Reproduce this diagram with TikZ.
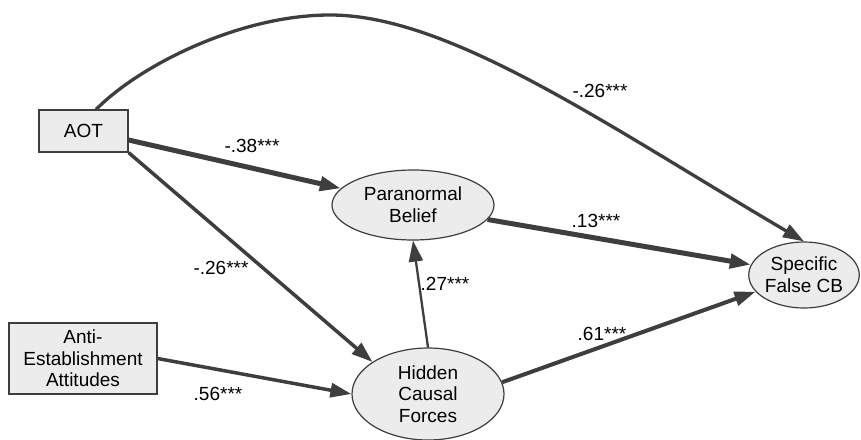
\documentclass[tikz,border=0pt]{standalone}
\usepackage{fontspec}
\setmainfont{Liberation Sans}
\usetikzlibrary{shapes.geometric,arrows.meta,calc}
\definecolor{ln}{HTML}{3E3E3E}
\definecolor{nodefill}{HTML}{ECECEC}
\begin{document}
\begin{tikzpicture}[x=1pt,y=-1pt,
  every node/.style={font=\fontsize{19}{21.7}\selectfont},
  boxnode/.style={draw=ln, fill=nodefill, line width=1.2pt, rectangle, inner sep=0pt, align=center},
  ellnode/.style={draw=ln, fill=nodefill, line width=1.2pt, ellipse, inner sep=0pt, align=center},
  conn/.style={draw=ln, -{Triangle[length=21pt,width=14pt]}},
  lbl/.style={anchor=base, text=black, inner sep=0pt}
]
\useasboundingbox (0,0) rectangle (861,439);
\fill[white] (0,0) rectangle (861,439);
% nodes
\node[boxnode, minimum width=89pt, minimum height=42pt] (aot) at (83.5,131) {AOT};
\node[boxnode, minimum width=148pt, minimum height=71pt] (anti) at (83,358.5) {Anti-\\Establishment\\Attitudes};
\node[ellnode, minimum width=162pt, minimum height=70pt] (para) at (413,205) {Paranormal\\Belief};
\node[ellnode, minimum width=152pt, minimum height=92pt] (hid) at (428,394) {Hidden\\Causal\\Forces};
\node[ellnode, minimum width=108pt, minimum height=66pt] (spec) at (804,275) {Specific\\False CB};
\coordinate (c0) at ($(aot.north west)!0.64!(aot.north east)$);
\coordinate (a1) at ($(aot.east)+(0,9)$);
% connectors
\draw[conn, line width=5pt] (a1) -- (para.167);
\draw[conn, line width=3.5pt] (aot.south east) -- (hid.150);
\draw[conn, line width=3.5pt] (anti.east) -- (hid.west);
\draw[conn, line width=2.3pt] (hid.north) -- (para.south);
\draw[conn, line width=5pt] (para.-11) -- (spec.169);
\draw[conn, line width=4pt] (hid.9) -- (spec.199);
\draw[conn, line width=3.3pt] (c0) .. controls (140,65) and (240,15) .. (330,15)
   .. controls (450,15) and (607,125.6) .. (spec.north);
% labels
\node[lbl] (l1) at (252,152) {-.38***};
\node[lbl] (l2) at (221,274) {-.26***};
\node[lbl] (l3) at (218,400) {.56***};
\node[lbl] (l4) at (445,290) {.27***};
\node[lbl] (l5) at (596,227) {.13***};
\node[lbl] (l6) at (602,340) {.61***};
\node[lbl] (l7) at (600,97) {-.26***};
\end{tikzpicture}
\end{document}
